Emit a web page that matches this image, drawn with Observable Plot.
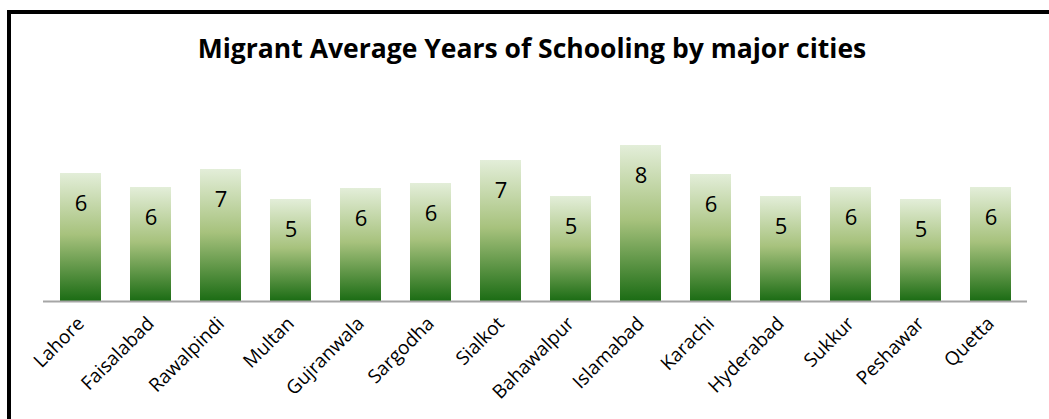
<!DOCTYPE html>
<html>
<head>
<meta charset="utf-8">
<script src="https://cdn.jsdelivr.net/npm/d3@7"></script>
<script src="https://cdn.jsdelivr.net/npm/@observablehq/plot@0.6"></script>
<style>
  html, body { margin: 0; padding: 0; background: #fff; overflow: hidden; }
  #wrap { position: relative; width: 1049px; height: 419px; }
  #frame { position: absolute; left: 7px; top: 10px; width: 1100px; height: 500px;
           border-left: 4px solid #000; border-top: 4px solid #000; box-sizing: border-box; }
  #title { position: absolute; left: 0; top: 30px; width: 1064px; text-align: center;
           font-family: "Open Sans", sans-serif; font-weight: bold; font-size: 26.5px; color: #000; }
  #chart { position: absolute; left: 0; top: 0; }
</style>
</head>
<body>
<div id="wrap">
  <div id="frame"></div>
  <div id="chart"></div>
  <div id="title">Migrant Average Years of Schooling by major cities</div>
</div>
<script>
const cities = ["Lahore", "Faisalabad", "Rawalpindi", "Multan", "Gujranwala", "Sargodha", "Sialkot",
                "Bahawalpur", "Islamabad", "Karachi", "Hyderabad", "Sukkur", "Peshawar", "Quetta"];
const values = [6.4, 5.7, 6.6, 5.1, 5.65, 5.9, 7.05, 5.25, 7.8, 6.35, 5.25, 5.7, 5.1, 5.7];

const data = cities.map((c, i) => ({city: c, value: values[i]}));

function gradientDefs() {
  const ns = "http://www.w3.org/2000/svg";
  const defs = document.createElementNS(ns, "defs");
  const g = document.createElementNS(ns, "linearGradient");
  g.setAttribute("id", "barGrad");
  g.setAttribute("x1", "0"); g.setAttribute("y1", "0");
  g.setAttribute("x2", "0"); g.setAttribute("y2", "1");
  [["0%", "#e3eed9"], ["48%", "#a7c27d"], ["100%", "#1b6c14"]].forEach(([o, c]) => {
    const s = document.createElementNS(ns, "stop");
    s.setAttribute("offset", o); s.setAttribute("stop-color", c);
    g.appendChild(s);
  });
  defs.appendChild(g);
  return defs;
}

const plot = Plot.plot({
  width: 1049,
  height: 419,
  marginLeft: 43,
  marginRight: 22,
  marginTop: 101,
  marginBottom: 118,
  style: {fontFamily: "'Open Sans', sans-serif", background: "transparent"},
  x: {domain: cities, paddingInner: 0.42, paddingOuter: 0.21, label: null},
  y: {domain: [0, 10], axis: null},
  marks: [
    gradientDefs,
    Plot.barY(data, {x: "city", y: "value", fill: "url(#barGrad)"}),
    Plot.ruleY([0], {stroke: "#a6a6a6", strokeWidth: 2}),
    Plot.text(data, {x: "city", y: "value", text: d => String(Math.round(d.value)), dy: 30,
                     fontSize: 22, fill: "#000"}),
    Plot.axisX({tickRotate: -45, tickSize: 0, tickPadding: 19, fontSize: 19, fill: "#000", label: null})
  ]
});
document.getElementById("chart").appendChild(plot);
</script>
</body>
</html>
